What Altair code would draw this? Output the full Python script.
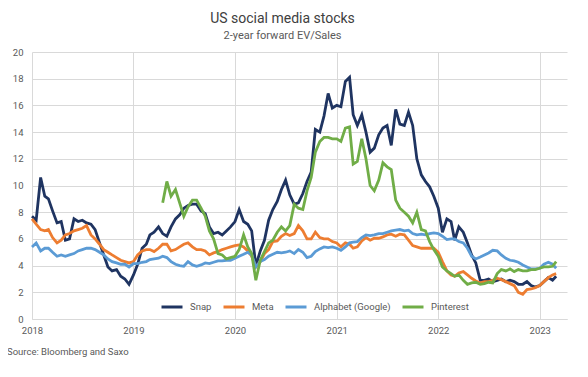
import altair as alt
import pandas as pd

# semi-monthly observation dates (1st and 16th of each month), Jan 2018 .. Mar 2023
dates = [f"{y}-{m:02d}-{d:02d}" for y in range(2018, 2024) for m in range(1, 13) for d in (1, 16)]
dates = dates[:125]

series_names = ["Snap", "Meta", "Alphabet (Google)", "Pinterest"]
series_colors = ["#1f3461", "#ed7d31", "#5b9bd5", "#70ad47"]

snap = [
    7.7, 7.4, 10.6, 9.2, 9.0, 8.1, 7.2, 7.3, 5.9, 6.0, 7.5, 7.3, 7.4, 7.2, 7.1, 6.7, 5.7, 4.8, 3.9, 3.6, 3.7, 3.2, 3.0, 2.6,
    3.3, 4.1, 5.3, 5.6, 6.3, 6.5, 6.9, 6.4, 6.2, 6.9, 7.5, 7.8, 8.3, 8.5, 8.6, 8.6, 8.1, 7.9, 6.9, 6.4, 6.5, 6.3, 6.6, 6.9,
    7.3, 8.2, 7.3, 7.1, 6.6, 4.0, 5.1, 5.9, 7.4, 8.2, 8.8, 9.7, 10.4, 9.3, 8.6, 8.7, 9.4, 10.3, 11.0, 14.2, 14.0, 15.2, 16.9, 15.8,
    16.0, 15.9, 17.8, 18.1, 15.3, 14.5, 15.3, 14.0, 12.5, 12.8, 13.8, 14.3, 14.5, 13.0, 15.7, 14.6, 14.5, 15.5, 14.5, 12.0, 10.8, 10.3, 9.9, 9.2,
    8.3, 6.5, 7.5, 7.3, 5.9, 6.9, 6.5, 5.7, 4.8, 4.2, 2.9, 2.9, 3.0, 2.8, 2.9, 3.0, 2.8, 2.9, 2.8, 2.6, 2.6, 2.8, 2.5, 2.4,
    2.5, 2.8, 3.1, 2.9, 3.2,
]
meta = [
    7.5, 7.1, 6.7, 6.6, 6.7, 6.1, 5.7, 5.9, 6.3, 6.4, 6.6, 6.7, 6.8, 7.0, 6.3, 6.0, 5.6, 5.2, 5.0, 4.8, 4.6, 4.4, 4.3, 4.2,
    4.3, 4.8, 5.1, 5.2, 5.2, 5.05, 5.3, 5.6, 5.6, 5.1, 5.2, 5.4, 5.6, 5.7, 5.4, 5.2, 5.2, 5.1, 4.8, 4.95, 5.05, 5.2, 5.3, 5.4,
    5.5, 5.55, 5.4, 5.1, 4.7, 3.9, 4.3, 4.9, 5.2, 5.8, 5.85, 6.2, 6.4, 6.25, 6.4, 7.0, 6.6, 6.0, 6.0, 6.5, 6.1, 6.0, 6.0, 5.8,
    5.7, 5.4, 5.7, 5.6, 5.3, 5.4, 5.85, 6.1, 5.9, 6.05, 6.05, 6.15, 6.3, 6.35, 6.2, 6.35, 6.3, 5.9, 5.5, 5.4, 5.3, 5.3, 5.3, 5.3,
    5.0, 4.3, 3.6, 3.3, 3.2, 3.45, 3.55, 3.3, 3.05, 2.85, 2.7, 2.8, 2.8, 2.9, 3.05, 2.95, 2.8, 2.65, 2.5, 2.0, 1.85, 2.2, 2.25, 2.35,
    2.5, 2.8, 3.1, 3.3, 3.4,
]
alphabet = [
    5.4, 5.7, 5.1, 5.3, 5.3, 5.0, 4.7, 4.8, 4.7, 4.8, 4.9, 5.1, 5.2, 5.3, 5.3, 5.2, 5.0, 4.8, 4.5, 4.3, 4.2, 4.1, 4.1, 3.9,
    4.15, 4.15, 4.25, 4.3, 4.45, 4.5, 4.55, 4.7, 4.6, 4.3, 4.1, 4.0, 3.95, 4.3, 4.05, 3.95, 4.05, 4.2, 4.15, 4.25, 4.35, 4.35, 4.4, 4.4,
    4.55, 4.7, 4.85, 5.0, 4.8, 3.9, 4.3, 4.45, 4.7, 4.85, 5.0, 4.95, 5.0, 5.1, 4.9, 5.2, 5.0, 4.6, 4.7, 5.05, 5.25, 5.4, 5.35, 5.4,
    5.3, 5.15, 5.4, 5.7, 5.75, 5.8, 6.1, 6.3, 6.25, 6.3, 6.4, 6.4, 6.5, 6.6, 6.65, 6.7, 6.6, 6.65, 6.4, 6.3, 6.35, 6.3, 6.4, 6.45,
    6.4, 6.2, 5.95, 6.0, 6.0, 5.8, 5.7, 5.3, 4.7, 4.5, 4.65, 4.8, 4.95, 5.15, 5.1, 4.8, 4.55, 4.4, 4.35, 4.25, 4.05, 3.9, 3.75, 3.75,
    3.8, 4.1, 4.25, 4.1, 3.8,
]
pinterest = [None] * 31 + [
    8.7, 10.3, 9.2, 9.7, 8.7, 7.7, 8.4, 8.9, 8.9, 8.3, 7.7, 6.6, 6.0, 4.9, 4.8, 4.5, 4.6,
    4.7, 5.2, 6.3, 5.4, 4.9, 2.9, 4.4, 5.05, 5.7, 5.9, 6.5, 6.9, 6.6, 7.0, 8.6, 8.3, 8.2, 9.6, 10.6, 12.5, 13.3, 13.6, 13.6, 13.5,
    13.5, 13.3, 14.3, 14.4, 11.6, 11.8, 13.5, 12.0, 10.0, 9.6, 10.4, 11.7, 11.4, 11.2, 8.9, 8.3, 8.0, 7.7, 7.2, 8.0, 6.7, 6.6, 5.8, 5.2,
    4.7, 3.9, 3.6, 3.4, 3.2, 3.3, 2.9, 2.6, 2.7, 2.75, 2.6, 2.65, 2.75, 2.7, 3.4, 3.7, 3.6, 3.75, 3.55, 3.7, 3.6, 3.6, 3.7, 3.7,
    3.8, 3.9, 3.9, 3.95, 4.3,
]

year_ticks = [2018, 2019, 2020, 2021, 2022, 2023]
title_text = "US social media stocks"
subtitle_text = "2-year forward EV/Sales"
source_text = "Source: Bloomberg and Saxo"

rows = []
for name, vals in zip(series_names, [snap, meta, alphabet, pinterest]):
    for d, v in zip(dates, vals):
        if v is not None:
            rows.append({"date": d, "series": name, "value": v})
df = pd.DataFrame(rows)

FONT = "Roboto"
GREY = "#595959"

lines = alt.Chart(df).mark_line(strokeWidth=2.8).encode(
    x=alt.X(
        "date:T",
        scale=alt.Scale(domain=["2018-01-01", "2023-04-09"]),
        axis=alt.Axis(
            values=[alt.DateTime(year=y, month=1, date=1) for y in year_ticks],
            format="%Y", title=None, grid=True, ticks=False, domain=True,
            labelPadding=6, labelFlush=False,
        ),
    ),
    y=alt.Y(
        "value:Q",
        scale=alt.Scale(domain=[0, 20]),
        axis=alt.Axis(values=list(range(0, 21, 2)), title=None, grid=True, ticks=False,
                      domain=False, labelPadding=9),
    ),
    color=alt.Color(
        "series:N",
        scale=alt.Scale(domain=series_names, range=series_colors),
        sort=series_names,
        legend=alt.Legend(
            title=None, orient="none", legendX=128, legendY=243, direction="horizontal",
            symbolType="stroke", symbolSize=441, symbolStrokeWidth=3,
            labelFont=FONT, labelFontSize=9.5, labelColor=GREY, labelOffset=6,
            columnPadding=5,
        ),
    ),
    detail="series:N",
)

source = alt.Chart(pd.DataFrame({"t": [source_text]})).mark_text(
    align="left", baseline="middle", font=FONT, fontSize=9.5, color=GREY
).encode(x=alt.value(-25), y=alt.value(300), text="t:N")

chart = alt.layer(lines, source).properties(
    width=535,
    height=267,
    autosize=alt.AutoSizeParams(type="none"),
    padding={"left": 24, "top": 44, "right": 13, "bottom": 50},
    title=alt.TitleParams(
        title_text, subtitle=subtitle_text, font=FONT, fontSize=14, fontWeight="normal",
        color="#404040", subtitleFont=FONT, subtitleFontSize=11, subtitleColor=GREY,
        anchor="middle", dx=-17, offset=6, subtitlePadding=4,
    ),
).configure_axis(
    gridColor="#d9d9d9", domainColor="#d9d9d9", labelColor=GREY, labelFont=FONT, labelFontSize=9.5,
).configure_view(stroke=None)

chart.save("out.html", embed_options={"renderer": "svg", "actions": False})
